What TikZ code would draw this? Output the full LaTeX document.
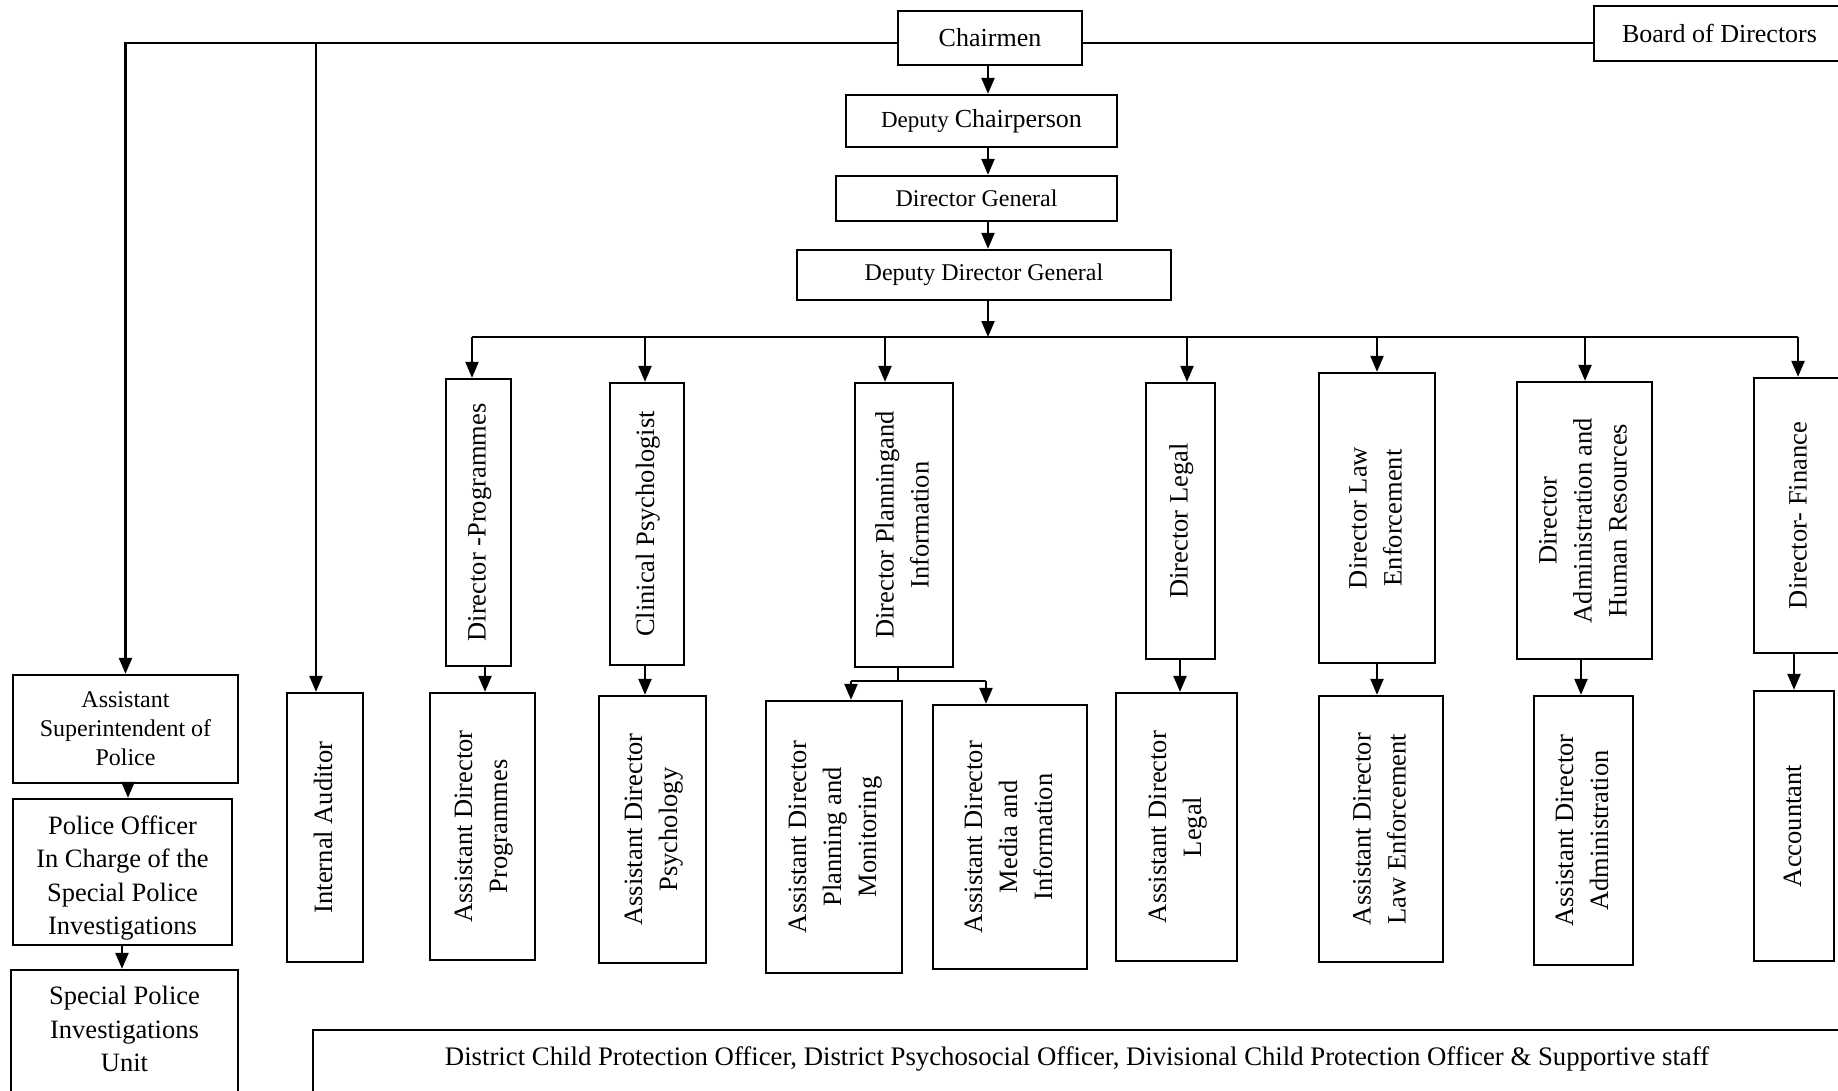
\documentclass[tikz,border=0pt]{standalone}
\usepackage{fontspec}
\setmainfont{Liberation Serif}
\usepackage{graphicx}
\usetikzlibrary{arrows.meta}
\newcommand{\vtext}[1]{\rotatebox{90}{\begin{tabular}{@{}c@{}}#1\end{tabular}}}
\tikzset{
  bx/.style={draw, line width=2.3pt, inner sep=0pt, align=center, font=\fontsize{24}{29}\selectfont},
  vbx/.style={draw, line width=2.3pt, inner sep=0pt, font=\fontsize{26.5}{35}\selectfont},
  ln/.style={line width=2.3pt},
  arr/.style={line width=2.3pt, -{Triangle[width=13pt,length=16pt]}},
}
\begin{document}
\begin{tikzpicture}[x=1pt,y=-1pt]
\useasboundingbox (0,0) rectangle (1838,1091);
\fill[white] (0,0) rectangle (1838,1091);
\clip (0,0) rectangle (1838,1091);

% top chain
\node[bx, minimum width=184, minimum height=54, font=\fontsize{26}{30}\selectfont] (chair) at (990,38) {Chairmen};
\node[bx, minimum width=251, minimum height=55, font=\fontsize{26}{30}\selectfont] (board) at (1719.5,33.5) {Board of Directors};
\node[bx, minimum width=271, minimum height=52] (dc) at (981.5,121) {{\fontsize{23}{28}\selectfont Deputy} {\fontsize{26}{30}\selectfont Chairperson}};
\node[bx, minimum width=281, minimum height=45] (dg) at (976.5,198.5) {Director General};
\node[bx, minimum width=374, minimum height=50] (ddg) at (984,275) {Deputy Director General};

% directors
\node[vbx, minimum width=65, minimum height=287] (dprog) at (478.5,522.5) {\vtext{Director -Programmes}};
\node[vbx, minimum width=74, minimum height=282] (dpsy) at (647,524) {\vtext{Clinical Psychologist}};
\node[vbx, minimum width=98, minimum height=284] (dplan) at (904,525) {\vtext{Director Planningand\\Information}};
\node[vbx, minimum width=69, minimum height=276] (dlegal) at (1180.5,521) {\vtext{Director Legal}};
\node[vbx, minimum width=116, minimum height=290] (dlaw) at (1377,518) {\vtext{Director Law\\Enforcement}};
\node[vbx, minimum width=135, minimum height=277] (dadmin) at (1584.5,520.5) {\vtext{Director\\Administration and\\Human Resources}};
\node[vbx, minimum width=91, minimum height=275] (dfin) at (1799.5,515.5) {\vtext{Director- Finance}};

% assistants
\node[vbx, minimum width=105, minimum height=267] (aprog) at (482.5,826.5) {\vtext{Assistant Director\\Programmes}};
\node[vbx, minimum width=107, minimum height=267] (apsy) at (652.5,829.5) {\vtext{Assistant Director\\Psychology}};
\node[vbx, minimum width=136, minimum height=272] (aplan) at (834,837) {\vtext{Assistant Director\\Planning and\\Monitoring}};
\node[vbx, minimum width=154, minimum height=264] (amedia) at (1010,837) {\vtext{Assistant Director\\Media and\\Information}};
\node[vbx, minimum width=121, minimum height=268] (alegal) at (1176.5,827) {\vtext{Assistant Director\\Legal}};
\node[vbx, minimum width=124, minimum height=266] (alaw) at (1381,829) {\vtext{Assistant Director\\Law Enforcement}};
\node[vbx, minimum width=99, minimum height=269] (aadmin) at (1583.5,830.5) {\vtext{Assistant Director\\Administration}};
\node[vbx, minimum width=80, minimum height=270] (acct) at (1794,826) {\vtext{Accountant}};

% left column
\node[bx, minimum width=225, minimum height=108] (asp) at (125.5,729) {Assistant\\Superintendent of\\Police};
\node[bx, minimum width=219, minimum height=146, font=\fontsize{26.5}{33.5}\selectfont] (po) at (122.5,872) {};
\node[align=center, inner sep=0pt, font=\fontsize{26.5}{33.5}\selectfont] (potext) at (122.5,878) {Police Officer\\In Charge of the\\Special Police\\Investigations};
\node[bx, minimum width=227, minimum height=125, font=\fontsize{26.5}{33.5}\selectfont] (spiu) at (124.5,1032.5) {};
\node[align=center, inner sep=0pt, font=\fontsize{26.5}{33.5}\selectfont] (spiutext) at (124.5,1029) {Special Police\\Investigations\\Unit};
\node[vbx, minimum width=76, minimum height=269] (ia) at (325,827.5) {\vtext{Internal Auditor}};

% bottom
\node[bx, minimum width=1528, minimum height=90] (bot) at (1077,1075) {};
\node[inner sep=0pt, font=\fontsize{26.75}{31}\selectfont] (bottext) at (1077,1059) {District Child Protection Officer, District Psychosocial Officer, Divisional Child Protection Officer \& Supportive staff};

% coordinates
\coordinate (hy) at (0,43);
\coordinate (iax) at (316,0);
\coordinate (mx) at (988,0);
\coordinate (b1) at (472,337);
\coordinate (b2) at (645,337);
\coordinate (b3) at (885,337);
\coordinate (b4) at (1187,337);
\coordinate (b5) at (1377,337);
\coordinate (b6) at (1585,337);
\coordinate (b7) at (1798,337);
\coordinate (bm) at (988,337);

% top connectors
\draw[arr] (chair.west |- hy) -| (asp.north);
\draw[arr] (iax |- hy) -- (iax |- ia.north);
\draw[ln] (chair.east |- hy) -- (board.west |- hy);
\draw[arr] (mx |- chair.south) -- (mx |- dc.north);
\draw[arr] (mx |- dc.south) -- (mx |- dg.north);
\draw[arr] (mx |- dg.south) -- (mx |- ddg.north);
\draw[arr] (mx |- ddg.south) -- (bm);
\draw[ln] (b1) -- (b7);
\draw[arr] (b1) -- (b1 |- dprog.north);
\draw[arr] (b2) -- (b2 |- dpsy.north);
\draw[arr] (b3) -- (b3 |- dplan.north);
\draw[arr] (b4) -- (b4 |- dlegal.north);
\draw[arr] (b5) -- (b5 |- dlaw.north);
\draw[arr] (b6) -- (b6 |- dadmin.north);
\draw[arr] (b7) -- (b7 |- dfin.north);

% director to assistant
\coordinate (v1) at (485,0);
\coordinate (v2) at (645,0);
\coordinate (v4) at (1180,0);
\coordinate (v5) at (1377,0);
\coordinate (v6) at (1581,0);
\coordinate (v7) at (1794,0);
\draw[arr] (v1 |- dprog.south) -- (v1 |- aprog.north);
\draw[arr] (v2 |- dpsy.south) -- (v2 |- apsy.north);
\draw[arr] (v4 |- dlegal.south) -- (v4 |- alegal.north);
\draw[arr] (v5 |- dlaw.south) -- (v5 |- alaw.north);
\draw[arr] (v6 |- dadmin.south) -- (v6 |- aadmin.north);
\draw[arr] (v7 |- dfin.south) -- (v7 |- acct.north);

% planning branch
\coordinate (pj) at (898,681);
\coordinate (pl) at (851,681);
\coordinate (pr) at (986,681);
\draw[ln] (pj |- dplan.south) -- (pj);
\draw[ln] (pl) -- (pr);
\draw[arr] (pl) -- (pl |- aplan.north);
\draw[arr] (pr) -- (pr |- amedia.north);

% left chain
\coordinate (la) at (128,0);
\coordinate (lb) at (122,0);
\draw[arr] (la |- asp.south) -- (la |- po.north);
\draw[arr] (lb |- po.south) -- (lb |- spiu.north);
\end{tikzpicture}
\end{document}
